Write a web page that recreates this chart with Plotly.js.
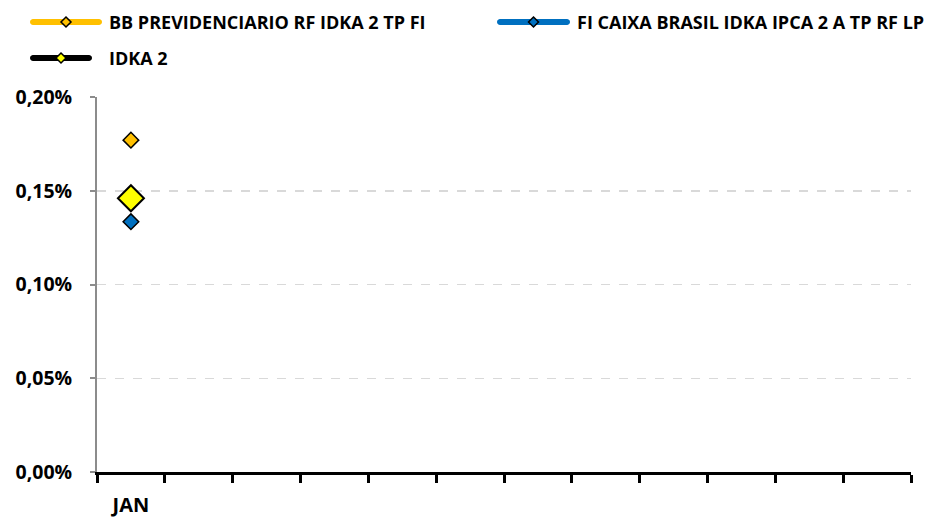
<!DOCTYPE html>
<html>
<head>
<meta charset="utf-8">
<script src="https://cdn.plot.ly/plotly-3.0.1.min.js"></script>
<style>html,body{margin:0;padding:0;background:#fff}#chart{width:926px;height:518px}</style>
</head>
<body>
<div id="chart"></div>
<script>
var months = ["JAN","FEV","MAR","ABR","MAI","JUN","JUL","AGO","SET","OUT","NOV","DEZ"];
var tickLabels = ["JAN","","","","","","","","","","",""];
var seriesNames = ["BB PREVIDENCIARIO RF IDKA 2 TP FI", "FI CAIXA BRASIL IDKA IPCA 2 A TP RF LP", "IDKA 2"];
var bbValues = [0.00177, null, null, null, null, null, null, null, null, null, null, null];
var caixaValues = [0.001335, null, null, null, null, null, null, null, null, null, null, null];
var idkaValues = [0.00146, null, null, null, null, null, null, null, null, null, null, null];
var yTicks = [0, 0.0005, 0.0010, 0.0015, 0.0020];

var font = "'Open Sans', sans-serif";
var lineColors = ["#FFC000", "#0070C0", "#000000"];
var markerColors = ["#FFC000", "#0070C0", "#FFFF00"];
var allValues = [bbValues, caixaValues, idkaValues];
var markerSizes = [12, 12, 20];

var traces = allValues.map(function (vals, i) {
  return {x: months, y: vals, name: seriesNames[i], type: "scatter", mode: "lines+markers",
    line: {color: lineColors[i], width: 6}, showlegend: false,
    marker: {symbol: "diamond", size: markerSizes[i], color: markerColors[i],
             line: {color: "#000", width: i === 2 ? 2 : 1.5}}};
});

// custom legend (pixel layout converted to paper coords)
var L = 97, R = 911, T = 97, B = 472;
function px(x) { return (x - L) / (R - L); }
function py(y) { return (B - y) / (B - T); }
function rrect(x0, x1, yc, h) {
  var r = h / 2;
  var p = "M" + px(x0 + r) + "," + py(yc - r) + " L" + px(x1 - r) + "," + py(yc - r);
  var n = 8, s = "";
  for (var k = 0; k <= n; k++) { var a = -Math.PI / 2 + Math.PI * k / n;
    s += " L" + px(x1 - r + r * Math.cos(a)) + "," + py(yc + r * Math.sin(a)); }
  for (var k2 = 0; k2 <= n; k2++) { var a2 = Math.PI / 2 + Math.PI * k2 / n;
    s += " L" + px(x0 + r + r * Math.cos(a2)) + "," + py(yc + r * Math.sin(a2)); }
  return p + s + " Z";
}
function diamond(xc, yc, r) {
  return "M" + px(xc) + "," + py(yc - r) + " L" + px(xc + r) + "," + py(yc) +
         " L" + px(xc) + "," + py(yc + r) + " L" + px(xc - r) + "," + py(yc) + " Z";
}
var legendPos = [{x0: 30, x1: 102, y: 22, tx: 107}, {x0: 497, x1: 570, y: 22, tx: 575}, {x0: 30, x1: 92, y: 58, tx: 107}];
var shapes = [], annotations = [];
legendPos.forEach(function (p, i) {
  shapes.push({type: "path", xref: "paper", yref: "paper", path: rrect(p.x0, p.x1, p.y, 6),
               fillcolor: lineColors[i], line: {width: 0}});
  var mx = (p.x0 + p.x1) / 2;
  shapes.push({type: "path", xref: "paper", yref: "paper", path: diamond(mx, p.y, 5),
               fillcolor: markerColors[i], line: {color: "#000", width: 1.5}});
  annotations.push({xref: "paper", yref: "paper", x: px(p.tx), y: py(p.y), xanchor: "left", yanchor: "middle",
                    text: "<b>" + seriesNames[i] + "</b>", showarrow: false,
                    font: {family: font, size: 18, color: "#000"}});
});

var layout = {
  width: 926, height: 518,
  margin: {l: L, r: 926 - R, t: T, b: 518 - B},
  paper_bgcolor: "#fff", plot_bgcolor: "#fff",
  separators: ",.",
  font: {family: font, size: 15, color: "#000"},
  showlegend: false,
  shapes: shapes,
  annotations: annotations,
  xaxis: {type: "category", categoryorder: "array", categoryarray: months,
          tickvals: months, ticktext: tickLabels, tickson: "boundaries",
          range: [-0.5, 11.5],
          showgrid: false, zeroline: false, showline: true, linecolor: "#000", linewidth: 3,
          ticks: "outside", ticklen: 8, tickwidth: 3, tickcolor: "#000",
          tickfont: {family: font, size: 20, color: "#000", weight: "bold"}, ticklabelstandoff: 13},
  yaxis: {range: [0, 0.0020], tickvals: yTicks, tickformat: ".2%",
          showgrid: true, gridcolor: "#D9D9D9", griddash: "dash", gridwidth: 1.5,
          zeroline: false, showline: true, linecolor: "#8C8C8C", linewidth: 2,
          ticks: "outside", ticklen: 5, tickcolor: "#8C8C8C", tickwidth: 2,
          tickfont: {family: font, size: 19.5, color: "#000", weight: "bold"}, ticklabelstandoff: 14}
};

Plotly.newPlot("chart", traces, layout, {displayModeBar: false, staticPlot: true});
</script>
</body>
</html>
